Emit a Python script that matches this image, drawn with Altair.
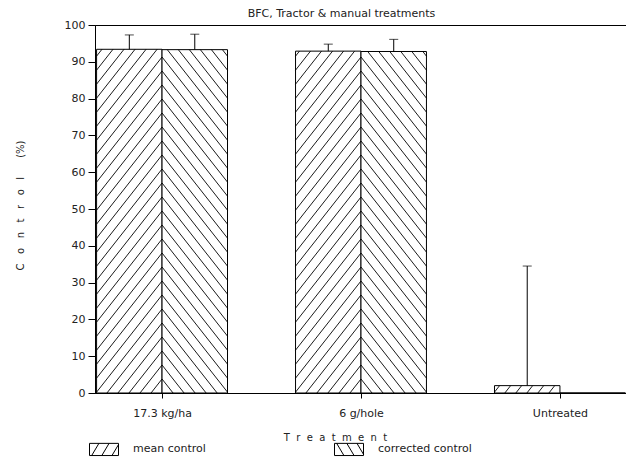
import json
import altair as alt
import pandas as pd

# ---- data ----
treatments = ["17.3 kg/ha", "6 g/hole", "Untreated"]
series_names = ["mean control", "corrected control"]
mean_control = [93.4, 92.9, 2.0]
mean_err_top = [97.3, 94.8, 34.5]
corrected_control = [93.3, 92.8, 0.0]
corrected_err_top = [97.5, 96.1, None]
y_ticks = [0, 10, 20, 30, 40, 50, 60, 70, 80, 90, 100]

# ---- layout constants ----
W_PLOT = 531
H_PLOT = 368
X_DOMAIN = [-0.337, 2.332]
HALF = 0.329  # width of one half-bar in group units
FONT = "DejaVu Sans"

SX = W_PLOT / (X_DOMAIN[1] - X_DOMAIN[0])  # px per x unit
SY = H_PLOT / 100.0                          # px per y unit
HATCH_STEP = 14.0  # px, vertical spacing of hatch lines at bar divider
HATCH_SLOPE = 1.27

rows = []
hatch = []
for i, t in enumerate(treatments):
    for s, vals, errs, side in [
        (series_names[0], mean_control, mean_err_top, -1),
        (series_names[1], corrected_control, corrected_err_top, 1),
    ]:
        v = vals[i]
        e = errs[i]
        x0 = i if side > 0 else i - HALF
        x1 = i + HALF if side > 0 else i
        rows.append({
            "treatment": t, "series": s, "x0": x0, "x1": x1,
            "xc": (x0 + x1) / 2, "value": v,
            "err": e if e is not None else v,
        })
        # hatch segments (pixel-space geometry mapped back to data units)
        H = v * SY
        Wp = HALF * SX
        if H <= 0:
            continue
        k = 0
        while k * HATCH_STEP <= H + HATCH_SLOPE * Wp:
            b = k * HATCH_STEP
            d_lo = max(0.0, (b - H) / HATCH_SLOPE)
            d_hi = min(Wp, b / HATCH_SLOPE)
            if d_hi - d_lo > 0.5:
                wa = b - HATCH_SLOPE * d_lo
                wb = b - HATCH_SLOPE * d_hi
                hatch.append({
                    "hx": i + side * d_lo / SX, "hy": wa / SY,
                    "hx2": i + side * d_hi / SX, "hy2": wb / SY,
                })
            k += 1

df = pd.DataFrame(rows)
hdf = pd.DataFrame(hatch)

xscale = alt.Scale(domain=X_DOMAIN, nice=False, zero=False)
yscale = alt.Scale(domain=[0, 100], nice=False)

label_expr = json.dumps(treatments) + "[datum.value]"

sp2 = "\u00a0\u00a0"
sp3 = "\u00a0\u00a0\u00a0"
x_axis = alt.Axis(
    values=[0, 1, 2], labelExpr=label_expr, grid=False, tickSize=5,
    labelPadding=9, labelFontSize=11, labelFont=FONT, labelColor="#222",
    tickColor="black", domainColor="black",
    title=sp2.join("Treatment"), titleFont=FONT, titleFontSize=10,
    titleFontWeight="normal", titleColor="#222",
    titleX=240, titleY=44, titleBaseline="middle", titleAlign="center",
)
y_axis = alt.Axis(
    values=y_ticks, grid=False, tickSize=7, labelPadding=3,
    labelFontSize=11, labelFont=FONT, labelColor="#222", labelOverlap=False,
    tickColor="black", domainColor="black",
    title=sp3.join("Control") + "\u00a0" * 6 + "(%)", titleFont=FONT,
    titleFontSize=10, titleFontWeight="normal", titleColor="#222",
    titleX=-75, titleY=H_PLOT / 2 - 4, titleBaseline="middle", titleAlign="center",
)

X = lambda f: alt.X(f, scale=xscale, axis=x_axis)
Y = lambda f: alt.Y(f, scale=yscale, axis=y_axis)

bars = alt.Chart(df).mark_bar(fill="white", stroke="black", strokeWidth=1).encode(
    x=X("x0:Q"),
    x2="x1:Q",
    y=Y("value:Q"),
    y2=alt.datum(0),
)

hatch_layer = alt.Chart(hdf).mark_rule(color="black", strokeWidth=0.9).encode(
    x=X("hx:Q"),
    x2="hx2:Q",
    y=Y("hy:Q"),
    y2="hy2:Q",
)

errdf = alt.Chart(df).transform_filter("datum.err > datum.value")
err_rule = errdf.mark_rule(color="black", strokeWidth=1).encode(
    x=X("xc:Q"),
    y=Y("value:Q"),
    y2="err:Q",
)
err_cap = errdf.mark_tick(color="black", orient="horizontal", size=9, thickness=1).encode(
    x=X("xc:Q"),
    y=Y("err:Q"),
)

sym_mean = ("M-1,-0.42H1V0.42H-1Z"
            "M-0.85,0.42L-0.35,-0.42M-0.15,0.42L0.35,-0.42M0.55,0.42L1,-0.336")
sym_corr = ("M-1,-0.42H1V0.42H-1Z"
            "M-0.85,-0.42L-0.35,0.42M-0.15,-0.42L0.35,0.42M0.55,-0.42L1,0.336")

legend_pts = alt.Chart(df).mark_point(
    filled=False, color="black", strokeWidth=1, size=0
).encode(
    x=X("xc:Q"),
    y=Y("value:Q"),
    shape=alt.Shape(
        "series:N",
        scale=alt.Scale(domain=series_names, range=[sym_mean, sym_corr]),
        legend=alt.Legend(
            title=None, orient="none", legendX=-6, legendY=409,
            direction="horizontal", symbolSize=841, symbolStrokeWidth=1,
            symbolStrokeColor="black", symbolFillColor="white",
            symbolOpacity=1, labelFont=FONT, labelFontSize=11,
            labelColor="#222", labelOffset=14, columnPadding=126, padding=0,
        ),
    ),
)

chart = alt.layer(bars, hatch_layer, err_rule, err_cap, legend_pts).properties(
    width=W_PLOT, height=H_PLOT,
    title=alt.TitleParams(
        "BFC, Tractor & manual treatments", font=FONT, fontSize=11,
        fontWeight="normal", color="#222", offset=0, dx=-19,
    ),
    padding={"left": 7, "top": 0, "right": 0, "bottom": 0},
).configure_view(stroke="black", strokeWidth=1)

chart.save("out.html", embed_options={"renderer": "svg", "actions": False})
